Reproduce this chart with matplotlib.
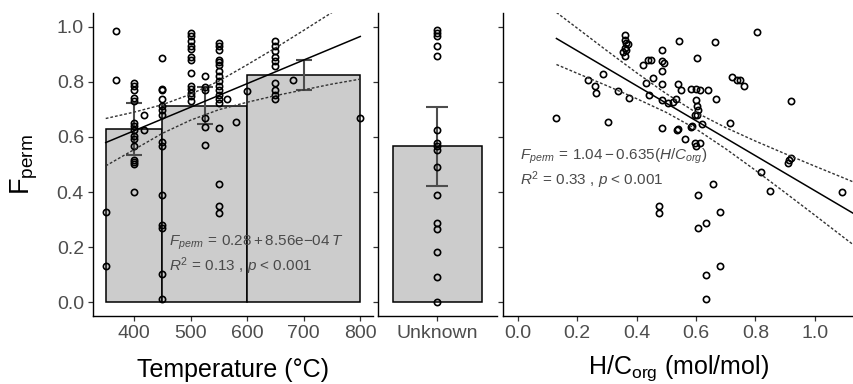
import matplotlib
matplotlib.use("Agg")
import matplotlib.pyplot as plt
import numpy as np

plt.rcParams["font.family"] = ["Liberation Sans", "DejaVu Sans"]
plt.rcParams["mathtext.fontset"] = "custom"
plt.rcParams["mathtext.rm"] = "Liberation Sans"
plt.rcParams["mathtext.it"] = "Liberation Sans:italic"
plt.rcParams["mathtext.bf"] = "Liberation Sans:bold"

# ---- left panel: temperature bins ----
bin_left = [350, 450, 600]
bin_right = [450, 600, 800]
bin_mid = [400, 525, 700]
bin_mean = [0.630, 0.714, 0.824]
bin_err = [0.095, 0.068, 0.054]

temp_groups = [350, 369, 400, 417, 450, 500, 525, 550, 564, 581, 600, 650, 681, 800]
fperm_groups = [
    [0.327, 0.132],
    [0.983, 0.808],
    [0.796, 0.784, 0.772, 0.742, 0.729, 0.651, 0.639, 0.624, 0.603, 0.593,
     0.566, 0.518, 0.510, 0.502, 0.400],
    [0.678, 0.627],
    [0.886, 0.775, 0.772, 0.736, 0.711, 0.697, 0.681, 0.581, 0.566, 0.391,
     0.281, 0.270, 0.104, 0.011],
    [0.977, 0.967, 0.947, 0.931, 0.919, 0.892, 0.880, 0.832, 0.786, 0.774,
     0.760, 0.747, 0.729],
    [0.820, 0.781, 0.772, 0.669, 0.636, 0.569],
    [0.941, 0.929, 0.917, 0.880, 0.871, 0.862, 0.838, 0.820, 0.802, 0.786,
     0.772, 0.754, 0.738, 0.723, 0.633, 0.428, 0.351, 0.325],
    [0.738],
    [0.653],
    [0.768],
    [0.947, 0.929, 0.911, 0.892, 0.874, 0.856, 0.796, 0.772, 0.754, 0.736],
    [0.806],
    [0.669],
]

temp_fit = (0.28, 8.56e-4)
temp_fit_range = [350, 800]
temp_ci_T = [350, 400, 450, 500, 550, 600, 650, 700, 750, 800]
temp_ci_lo = [0.495, 0.554, 0.613, 0.661, 0.699, 0.726, 0.750, 0.771, 0.792, 0.810]
temp_ci_hi = [0.667, 0.690, 0.717, 0.755, 0.803, 0.862, 0.923, 0.987, 1.052, 1.119]

# ---- middle panel: unknown temperature ----
unk_label = "Unknown"
unk_mean = 0.566
unk_err = 0.143
unk_fperm = [0.987, 0.977, 0.967, 0.929, 0.895, 0.627, 0.579, 0.566, 0.552,
             0.490, 0.388, 0.286, 0.267, 0.184, 0.092, 0.0]

# ---- right panel: H/C ----
hc = [0.130, 0.304, 0.287, 0.237, 0.259, 0.262, 0.336, 0.374,
      0.36, 0.362, 0.365, 0.372, 0.362, 0.365, 0.355, 0.36,
      0.422, 0.437, 0.450, 0.456, 0.433, 0.441,
      0.484, 0.484, 0.493, 0.484, 0.484, 0.542, 0.538, 0.551,
      0.484, 0.504, 0.523, 0.534, 0.484, 0.538, 0.562,
      0.582, 0.582, 0.600, 0.612, 0.640, 0.604, 0.600, 0.604, 0.607, 0.604,
      0.595, 0.612, 0.600, 0.595, 0.620, 0.663, 0.666, 0.657, 0.607, 0.682,
      0.633, 0.607, 0.680, 0.635, 0.635, 0.475, 0.475, 0.713, 0.721, 0.738,
      0.747, 0.762, 0.807, 0.921, 0.913, 0.921, 0.910, 0.820, 0.848, 1.093,
      0.536, 0.585]
hc_fperm = [0.669, 0.653, 0.830, 0.808, 0.786, 0.760, 0.766, 0.742,
            0.971, 0.953, 0.941, 0.938, 0.923, 0.914, 0.907, 0.893,
            0.862, 0.880, 0.880, 0.815, 0.797, 0.754,
            0.917, 0.874, 0.868, 0.838, 0.793, 0.947, 0.793, 0.769,
            0.733, 0.724, 0.726, 0.738, 0.633, 0.629, 0.593,
            0.636, 0.774, 0.774, 0.772, 0.769, 0.885, 0.735, 0.711, 0.697, 0.681,
            0.681, 0.578, 0.566, 0.578, 0.648, 0.946, 0.738, 0.428, 0.391, 0.327,
            0.286, 0.270, 0.132, 0.100, 0.013, 0.351, 0.325, 0.651, 0.816, 0.808,
            0.808, 0.784, 0.982, 0.731, 0.518, 0.524, 0.506, 0.472, 0.403, 0.400,
            0.627, 0.639]

hc_fit = (1.04, -0.635)
hc_fit_range = [0.13, 1.16]
hc_ci_x = [0.13, 0.2, 0.3, 0.4, 0.5, 0.6, 0.7, 0.8, 0.9, 1.0, 1.1, 1.16]
hc_ci_lo = [0.863, 0.831, 0.786, 0.739, 0.689, 0.629, 0.557, 0.479, 0.398, 0.316, 0.233, 0.184]
hc_ci_hi = [1.052, 0.995, 0.913, 0.833, 0.757, 0.689, 0.634, 0.585, 0.539, 0.494, 0.450, 0.423]

yticks = [0.0, 0.2, 0.4, 0.6, 0.8, 1.0]
hc_ticks = [0.0, 0.2, 0.4, 0.6, 0.8, 1.0]
temp_ticks = [400, 500, 600, 700, 800]

BAR_FILL = "#cccccc"
ERR_COL = "#4d4d4d"
TXT_COL = "#4a4a4a"
DASH = (0, (2.0, 1.4))
ANN_SIZE = 11

fig = plt.figure(figsize=(8.54, 3.84), dpi=100)
W, H = 854, 384
bottom = (H - 316) / H
height = (316 - 13) / H
ax1 = fig.add_axes([93 / W, bottom, 280 / W, height])
ax2 = fig.add_axes([378 / W, bottom, 119 / W, height])
ax3 = fig.add_axes([503 / W, bottom, 351 / W, height])


def style(ax, show_y):
    for s in ("top", "right"):
        ax.spines[s].set_visible(False)
    for s in ("left", "bottom"):
        ax.spines[s].set_linewidth(1.0)
        ax.spines[s].set_color("black")
    ax.tick_params(length=3.5, width=0.9, color="#333333", labelsize=14,
                   labelcolor="#4d4d4d", pad=3)
    ax.set_ylim(-0.05, 1.05)
    ax.set_yticks(yticks)
    if show_y:
        ax.set_yticklabels([f"{v:.1f}" for v in yticks])
    else:
        ax.set_yticklabels([])


pt_kw = dict(marker="o", ms=4.5, mfc="none", mec="black", mew=1.2,
             ls="none", zorder=4)

# left
style(ax1, True)
ax1.bar(bin_left, bin_mean, width=np.array(bin_right) - np.array(bin_left),
        align="edge", color=BAR_FILL, edgecolor="black", linewidth=1.1, zorder=1)
tx = [t for t, g in zip(temp_groups, fperm_groups) for _ in g]
ty = [v for g in fperm_groups for v in g]
ax1.plot(tx, ty, **pt_kw)
ax1.errorbar(bin_mid, bin_mean, yerr=bin_err, fmt="none", ecolor=ERR_COL,
             elinewidth=1.5, capsize=6, capthick=1.5, zorder=3)
xf = np.array(temp_fit_range)
ax1.plot(xf, temp_fit[0] + temp_fit[1] * xf, color="black", lw=1.1, zorder=5)
ax1.plot(temp_ci_T, temp_ci_lo, color="#333333", lw=1.0, ls=DASH, zorder=5)
ax1.plot(temp_ci_T, temp_ci_hi, color="#333333", lw=1.0, ls=DASH, zorder=5)
ax1.set_xlim(327.5, 822.5)
ax1.set_xticks(temp_ticks)
ax1.text(462, 0.217, r"$F_{perm}\,=\,0.28+8.56\mathrm{e}{-}04\,T$",
         fontsize=ANN_SIZE, color=TXT_COL, va="center", ha="left", zorder=6)
ax1.text(462, 0.130, r"$R^{2}$ = 0.13 , $p$ < 0.001",
         fontsize=ANN_SIZE, color=TXT_COL, va="center", ha="left", zorder=6)
ax1.set_ylabel(r"F$_{\mathrm{perm}}$", fontsize=19.5, color="black")
ax1.yaxis.label.set_va("center")
ax1.yaxis.set_label_coords(-(93 - 24) / 280, 0.5)
ax1.set_xlabel("Temperature (°C)", fontsize=18, color="black")
ax1.xaxis.set_label_coords(0.5, -(370 - 316) / 303)
ax1.xaxis.label.set_va("center")

# middle
style(ax2, False)
ax2.bar([0], [unk_mean], width=0.9, color=BAR_FILL, edgecolor="black",
        linewidth=1.1, zorder=1)
ax2.plot([0] * len(unk_fperm), unk_fperm, **pt_kw)
ax2.errorbar([0], [unk_mean], yerr=[unk_err], fmt="none", ecolor=ERR_COL,
             elinewidth=1.5, capsize=8, capthick=1.5, zorder=3)
ax2.set_xlim(-0.6, 0.6)
ax2.set_xticks([0])
ax2.set_xticklabels([unk_label])

# right
style(ax3, False)
ax3.plot(hc, hc_fperm, **pt_kw)
xh = np.array(hc_fit_range)
ax3.plot(xh, hc_fit[0] + hc_fit[1] * xh, color="black", lw=1.1, zorder=5)
ax3.plot(hc_ci_x, hc_ci_lo, color="#333333", lw=1.0, ls=DASH, zorder=5)
ax3.plot(hc_ci_x, hc_ci_hi, color="#333333", lw=1.0, ls=DASH, zorder=5)
ax3.set_xlim(-0.05, 1.132)
ax3.set_xticks(hc_ticks)
ax3.set_xticklabels([f"{v:.1f}" for v in hc_ticks])
ax3.text(0.008, 0.529, r"$F_{perm}\,=\,1.04-0.635(H/C_{org})$",
         fontsize=ANN_SIZE, color=TXT_COL, va="center", ha="left", zorder=6)
ax3.text(0.008, 0.442, r"$R^{2}$ = 0.33 , $p$ < 0.001",
         fontsize=ANN_SIZE, color=TXT_COL, va="center", ha="left", zorder=6)
ax3.set_xlabel(r"H/C$_{\mathrm{org}}$ (mol/mol)", fontsize=18, color="black")
ax3.xaxis.set_label_coords(0.5, -(368 - 316) / 303)
ax3.xaxis.label.set_va("center")

fig.savefig("out.png", dpi=100)
